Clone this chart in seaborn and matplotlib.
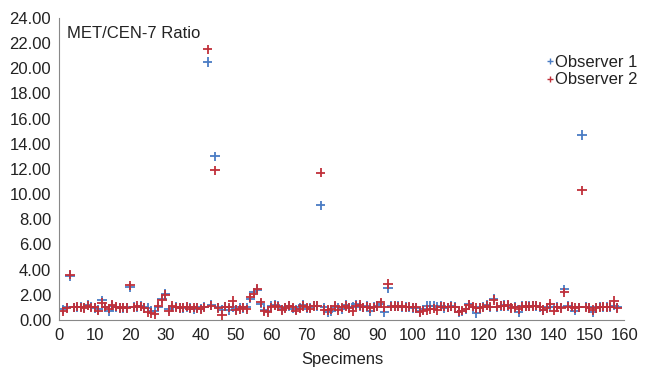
import matplotlib
matplotlib.use("Agg")
import matplotlib.pyplot as plt
import seaborn as sns
import pandas as pd
import numpy as np
from matplotlib.lines import Line2D

specimens = list(range(1, 159))

observer1 = [
    0.85, 1.00, 3.50, 1.00, 1.00, 1.05, 1.00, 1.20, 1.05, 0.95,
    0.85, 1.55, 1.00, 0.70, 1.10, 1.00, 1.00, 0.95, 1.00, 2.60,
    1.05, 1.00, 1.10, 1.00, 0.95, 0.75, 0.70, 1.05, 1.70, 2.10,
    0.85, 1.00, 1.05, 1.00, 0.95, 1.00, 1.00, 0.85, 1.00, 0.90,
    1.05, 20.5, 1.20, 13.0, 1.00, 0.80, 1.05, 0.80, 1.00, 0.85,
    1.00, 0.95, 1.00, 1.70, 2.20, 2.40, 1.30, 0.80, 0.75, 1.10,
    1.20, 1.10, 0.85, 1.00, 1.10, 0.90, 0.85, 1.00, 1.20, 0.90,
    1.00, 1.15, 1.10, 9.10, 1.00, 0.60, 0.70, 1.05, 1.00, 0.85,
    1.20, 1.00, 1.05, 1.25, 1.05, 1.00, 1.10, 0.70, 1.05, 1.10,
    1.30, 0.60, 2.55, 1.10, 1.05, 1.10, 1.00, 1.05, 1.00, 0.95,
    0.95, 0.70, 0.85, 1.10, 1.10, 1.10, 1.05, 1.10, 0.95, 1.00,
    1.10, 1.05, 0.60, 0.70, 0.85, 1.25, 1.00, 0.55, 1.00, 1.05,
    1.20, 1.00, 1.70, 1.00, 1.10, 1.20, 1.10, 1.00, 1.05, 0.60,
    1.10, 1.05, 1.10, 1.15, 1.10, 1.00, 0.80, 1.00, 1.05, 1.00,
    1.05, 1.00, 2.45, 1.10, 1.00, 0.75, 1.00, 14.7, 1.05, 1.00,
    0.60, 1.00, 1.05, 1.00, 1.05, 1.00, 1.15, 1.00,
]

observer2 = [
    0.70, 0.95, 3.60, 1.00, 1.05, 1.00, 0.95, 1.15, 1.00, 1.00,
    0.75, 1.35, 1.05, 0.90, 1.20, 1.05, 0.95, 1.00, 0.95, 2.75,
    1.00, 1.10, 1.05, 0.95, 0.60, 0.55, 0.45, 1.10, 1.60, 2.00,
    0.70, 1.10, 1.00, 0.95, 1.00, 1.05, 0.90, 1.00, 0.95, 0.85,
    1.00, 21.5, 1.15, 11.9, 0.95, 0.40, 1.05, 1.00, 1.50, 0.80,
    0.85, 1.00, 0.85, 1.80, 2.10, 2.50, 1.40, 0.70, 0.60, 1.00,
    1.15, 1.05, 0.80, 0.95, 1.15, 1.00, 0.75, 0.90, 1.10, 1.00,
    0.90, 1.10, 1.15, 11.7, 0.80, 0.80, 0.85, 1.10, 0.80, 1.00,
    1.10, 0.95, 0.70, 1.15, 1.20, 1.00, 1.05, 0.95, 1.00, 1.05,
    1.40, 1.00, 2.85, 1.05, 1.10, 1.05, 1.10, 1.00, 1.05, 1.00,
    1.00, 0.60, 0.75, 0.80, 0.85, 0.90, 0.80, 1.05, 1.05, 1.00,
    1.05, 1.00, 0.65, 0.75, 0.90, 1.20, 1.05, 0.95, 0.95, 1.00,
    1.15, 1.05, 1.60, 1.05, 1.15, 1.10, 1.20, 0.95, 1.00, 0.85,
    1.05, 1.10, 1.05, 1.10, 1.15, 1.05, 0.80, 0.95, 1.30, 0.75,
    1.00, 0.95, 2.20, 1.05, 1.05, 0.95, 1.00, 10.3, 1.00, 0.95,
    0.80, 0.95, 1.00, 1.05, 1.00, 1.05, 1.50, 0.95,
]

series_names = ["Observer 1", "Observer 2"]
x_ticks = list(range(0, 161, 10))
y_ticks = list(range(0, 25, 2))

df = pd.DataFrame({
    "Specimens": specimens * 2,
    "Ratio": observer1 + observer2,
    "Observer": [series_names[0]] * len(specimens) + [series_names[1]] * len(specimens),
})

blue = "#4a7cc4"
red = "#c0303a"

sns.set_style("white")
plt.rcParams["font.family"] = ["Liberation Sans", "DejaVu Sans"]

fig = plt.figure(figsize=(6.46, 3.71), dpi=100)
ax = fig.add_axes([0.0921, 0.1375, 0.8746, 0.814])

sns.scatterplot(data=df, x="Specimens", y="Ratio", hue="Observer",
                hue_order=series_names, palette=[blue, red],
                marker="+", s=45, linewidth=1.3, ax=ax, legend=False)

ax.set_xlim(0, 160)
ax.set_ylim(0, 24)
ax.set_xticks(x_ticks)
ax.set_yticks(y_ticks)
ax.set_yticklabels([f"{v:.2f}" for v in y_ticks])
ax.tick_params(axis="both", labelsize=12, colors="#222222", length=4,
               width=0.8, direction="out", pad=2)
ax.tick_params(axis="both", color="#888888")
for s in ["top", "right"]:
    ax.spines[s].set_visible(False)
for s in ["left", "bottom"]:
    ax.spines[s].set_color("#888888")
    ax.spines[s].set_linewidth(0.8)
ax.set_xlabel("Specimens", fontsize=12, color="#222222", labelpad=6)
ax.set_ylabel("")

fig.text(0.103, 0.91, "MET/CEN-7 Ratio", fontsize=12, color="#222222",
         va="center", ha="left")

handles = [Line2D([], [], linestyle="none", marker="+", color=c,
                  markersize=5, markeredgewidth=1.0) for c in (blue, red)]
leg = ax.legend(handles, series_names, loc="upper right",
                bbox_to_anchor=(1.034, 0.9), frameon=False, fontsize=12,
                handlelength=0.4, handletextpad=0.1, labelspacing=0.15,
                borderaxespad=0)
for t in leg.get_texts():
    t.set_color("#222222")

fig.savefig("out.png", dpi=100)
